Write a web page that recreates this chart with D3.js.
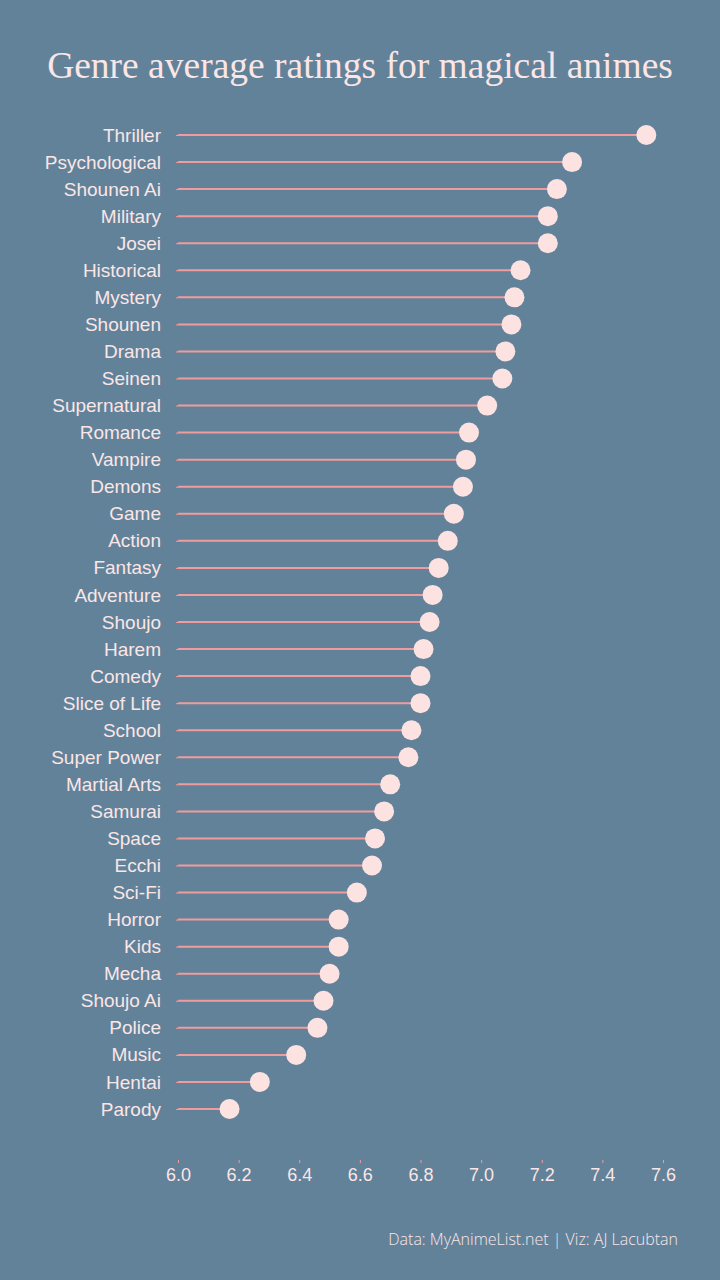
<!DOCTYPE html>
<html>
<head>
<meta charset="utf-8">
<script src="https://cdn.jsdelivr.net/npm/d3@7"></script>
<style>
  html, body { margin: 0; padding: 0; background: #62829a; }
  svg { display: block; }
</style>
</head>
<body>
<svg id="chart"></svg>
<script>
// genres, top to bottom
const genres = ["Thriller", "Psychological", "Shounen Ai", "Military", "Josei", "Historical",
  "Mystery", "Shounen", "Drama", "Seinen", "Supernatural", "Romance", "Vampire", "Demons",
  "Game", "Action", "Fantasy", "Adventure", "Shoujo", "Harem", "Comedy", "Slice of Life",
  "School", "Super Power", "Martial Arts", "Samurai", "Space", "Ecchi", "Sci-Fi", "Horror",
  "Kids", "Mecha", "Shoujo Ai", "Police", "Music", "Hentai", "Parody"];

const ratings = [7.545, 7.30, 7.25, 7.22, 7.22, 7.13,
  7.11, 7.10, 7.08, 7.07, 7.02, 6.96, 6.95, 6.94,
  6.91, 6.89, 6.86, 6.84, 6.83, 6.81, 6.80, 6.80,
  6.77, 6.76, 6.70, 6.68, 6.65, 6.64, 6.59, 6.53,
  6.53, 6.50, 6.48, 6.46, 6.39, 6.27, 6.17];

const xTicks = [6.0, 6.2, 6.4, 6.6, 6.8, 7.0, 7.2, 7.4, 7.6];

const width = 720, height = 1280;
const bg = "#62829a";
const lineCol = "#f19c9c";
const dotCol = "#fde2e2";
const textCol = "#fbe6e6";

const svg = d3.select("#chart")
  .attr("width", width)
  .attr("height", height);

svg.append("rect").attr("width", width).attr("height", height).attr("fill", bg);

const x = d3.scaleLinear().domain([6.0, 7.6]).range([178, 663]);
const y = d3.scalePoint().domain(genres).range([135, 1109]);

// title
svg.append("text")
  .attr("x", 360).attr("y", 78)
  .attr("text-anchor", "middle")
  .style("font-family", "'Liberation Serif', 'DejaVu Serif', serif")
  .style("font-size", "37.5px")
  .attr("fill", textCol)
  .text("Genre average ratings for magical animes");

const data = genres.map((g, i) => ({ genre: g, value: ratings[i] }));

// y axis labels
const yAxis = d3.axisLeft(y).tickSize(2).tickPadding(15);
const gy = svg.append("g").attr("transform", "translate(178,0)").call(yAxis);
gy.select(".domain").remove();
gy.selectAll(".tick line").attr("stroke", lineCol);
gy.selectAll(".tick text")
  .attr("fill", textCol)
  .style("font-family", "'Liberation Sans', Arial, sans-serif")
  .style("font-size", "19px");

// x axis
const xAxis = d3.axisBottom(x).tickValues(xTicks).tickFormat(d3.format(".1f")).tickSize(3).tickPadding(5);
const gx = svg.append("g").attr("transform", "translate(0,1160)").call(xAxis);
gx.select(".domain").remove();
gx.selectAll(".tick line").attr("stroke", lineCol);
gx.selectAll(".tick text")
  .attr("fill", textCol)
  .style("font-family", "'Liberation Sans', Arial, sans-serif")
  .style("font-size", "18px");

// lollipops
svg.append("g").selectAll("line")
  .data(data)
  .join("line")
  .attr("x1", x(6.0))
  .attr("x2", d => x(d.value))
  .attr("y1", d => y(d.genre))
  .attr("y2", d => y(d.genre))
  .attr("stroke", lineCol)
  .attr("stroke-width", 2);

svg.append("g").selectAll("circle")
  .data(data)
  .join("circle")
  .attr("cx", d => x(d.value))
  .attr("cy", d => y(d.genre))
  .attr("r", 10)
  .attr("fill", dotCol);

// caption
svg.append("text")
  .attr("x", 678).attr("y", 1245)
  .attr("text-anchor", "end")
  .style("font-family", "'Open Sans', sans-serif")
  .style("font-size", "16px")
  .style("font-weight", 300)
  .attr("fill", textCol)
  .text("Data: MyAnimeList.net | Viz: AJ Lacubtan");
</script>
</body>
</html>
